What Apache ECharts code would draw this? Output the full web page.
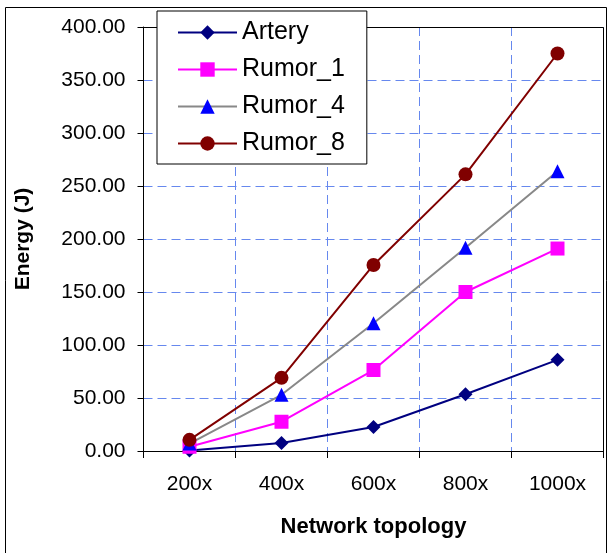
<!DOCTYPE html>
<html>
<head>
<meta charset="utf-8">
<script src="https://cdn.jsdelivr.net/npm/echarts@6/dist/echarts.min.js"></script>
<style>
html,body{margin:0;padding:0;background:#fff;}
#c{width:608px;height:553px;}
</style>
</head>
<body>
<div id="c"></div>
<script>
var categories = ['200x', '400x', '600x', '800x', '1000x'];
var artery = [0.5, 7.5, 22.6, 53.5, 86];
var rumor1 = [4, 27.6, 76.4, 150, 191];
var rumor4 = [7, 53, 120.5, 191.8, 264];
var rumor8 = [10.5, 69, 175.5, 261, 375];
var yTicks = {min: 0, max: 400, interval: 50};

var FONT = '"Liberation Sans", Arial, sans-serif';
var gridColor = '#6688ee';

var chart = echarts.init(document.getElementById('c'));
chart.setOption({
  backgroundColor: '#fff',
  animation: false,
  textStyle: {fontFamily: FONT},
  grid: {left: 143.5, right: 4.5, top: 27, bottom: 102, show: false},
  legend: {
    orient: 'vertical',
    left: 157, top: 11,
    padding: [9, 22, 8, 20],
    itemGap: 12,
    itemWidth: 59,
    itemHeight: 18,
    backgroundColor: '#fff',
    borderColor: '#000',
    borderWidth: 1,
    textStyle: {fontFamily: FONT, fontSize: 25, lineHeight: 24, color: '#000'},
    data: ['Artery', 'Rumor_1', 'Rumor_4', 'Rumor_8']
  },
  xAxis: {
    type: 'category',
    data: categories,
    boundaryGap: true,
    name: 'Network topology',
    nameLocation: 'middle',
    nameGap: 65,
    nameTextStyle: {fontFamily: FONT, fontSize: 22, fontWeight: 'bold', color: '#000'},
    axisLine: {lineStyle: {color: '#000', width: 1}},
    axisTick: {show: true, length: 7, alignWithLabel: false, lineStyle: {color: '#000'}},
    axisLabel: {fontFamily: FONT, fontSize: 21, color: '#000', margin: 23},
    splitLine: {show: true, lineStyle: {color: gridColor, type: [9, 5], width: 1}}
  },
  yAxis: {
    type: 'value',
    min: yTicks.min, max: yTicks.max, interval: yTicks.interval,
    name: 'Energy (J)',
    nameLocation: 'middle',
    nameGap: 110,
    nameTextStyle: {fontFamily: FONT, fontSize: 21, fontWeight: 'bold', color: '#000'},
    axisLine: {show: true, lineStyle: {color: '#000', width: 1}},
    axisTick: {show: true, length: 6, lineStyle: {color: '#000'}},
    axisLabel: {fontFamily: FONT, fontSize: 21, color: '#000', margin: 18,
      formatter: function (v) { return v.toFixed(2); }},
    splitLine: {show: true, lineStyle: {color: gridColor, type: [9, 5], width: 1}}
  },
  graphic: [
    {type: 'rect', z: 3, silent: true,
      shape: {x: 143.5, y: 27.5, width: 460, height: 424},
      style: {fill: 'none', stroke: '#000', lineWidth: 1}},
    {type: 'rect', z: 3, silent: true,
      shape: {x: 5.5, y: 7.5, width: 601, height: 560},
      style: {fill: 'none', stroke: '#000', lineWidth: 1}}
  ],
  series: [
    {name: 'Artery', type: 'line', data: artery, symbol: 'diamond', symbolSize: 14,
      itemStyle: {color: '#000080'}, lineStyle: {color: '#000080', width: 2}, z: 5},
    {name: 'Rumor_1', type: 'line', data: rumor1, symbol: 'rect', symbolSize: 14,
      itemStyle: {color: '#ff00ff'}, lineStyle: {color: '#ff00ff', width: 2}, z: 5},
    {name: 'Rumor_4', type: 'line', data: rumor4, symbol: 'triangle', symbolSize: 14,
      itemStyle: {color: '#0000ff'}, lineStyle: {color: '#888888', width: 2}, z: 5},
    {name: 'Rumor_8', type: 'line', data: rumor8, symbol: 'circle', symbolSize: 14,
      itemStyle: {color: '#800000'}, lineStyle: {color: '#800000', width: 2}, z: 5}
  ]
});
</script>
</body>
</html>
